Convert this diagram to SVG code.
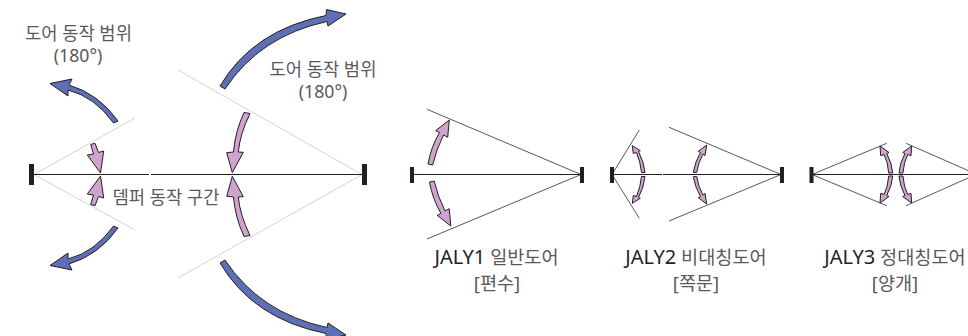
<svg xmlns="http://www.w3.org/2000/svg" width="968" height="336" viewBox="0 0 968 336">
<style>
text{font-family:"Noto Sans","Noto Sans CJK KR",sans-serif;font-size:18.6px;fill:#58595b;text-anchor:middle;font-weight:400}
.r{font-size:17.7px}
.b{fill:#231f20}
.c{stroke:#231f20;stroke-width:1.1;fill:none}
.g{stroke:#d4d4d4;stroke-width:1;fill:none}
.t{stroke:#58595b;stroke-width:1;fill:none}
.blue{fill:#5f6fb5;stroke:#231f20;stroke-width:1;stroke-linejoin:miter}
.pink{fill:#cfa3cd;stroke:#231f20;stroke-width:1;stroke-linejoin:miter}
.k{fill:#231f20;font-size:20px}
</style>
<defs>
<path id="a1" d="M118,121Q99,94 69,85L72,79L50,83.5L68,96L68,90Q95,97 113.5,123Z"/>
<path id="a2" d="M220,86Q253,30 326,15.5L326.5,9.5L346,14L328,26L327,21.5Q260,36 225,89Z"/>
<path id="a3" d="M90.7,144.5L95,143.3L98.5,152.5L103.7,151L100.5,173L87.3,155L93.5,154Z"/>
<path id="a4" d="M244,112.5Q235,132 233.5,152L226.7,152.7L232.3,172.7L243.3,152.3L238.3,152Q240,134 250,113.5Z"/>
<path id="a5" d="M428,164Q431,147 439.5,132.5L435.7,130.7L449.3,120L447.7,137.3L443.5,135Q436,150 432.7,165Z"/>
<path id="a6" d="M641.5,172.5Q640.5,162 636.5,152.5L633.3,153.5L632.3,145.7L640.3,150.7L638.5,151.5Q644,162 645,172.5Z"/>
<path id="a7" d="M693.3,172.3Q695,162 700.5,152.5L698.3,151.3L706.7,145L705,155.5L703,154Q698,163 696.7,172.5Z"/>
<path id="a8" d="M888.7,173Q888,162 884,154.5L880.7,155.7L880,146L889,152.5L886.7,153.5Q892,163 892.7,173Z"/>
</defs>
<g id="connectors">
<path class="g" d="M135,118L34,174.5L135,230M178,70L362,174.5L178,278"/>
<path class="c" d="M34,174.5H149M151,174.5H362"/>
<path class="t" d="M427,109.3L581,174.5L427,239M639.3,130L612,174.5L639.3,218.3M669,127.3L781,174.5L669,221M886.7,143.3L812,174.5L886.7,205.7M906,143.3L968,170.5M906,205.7L968,178"/>
<path class="c" d="M414,174.5H580M614,174.5H662M663,174.5H780M813,174.5H968"/>
<use href="#a1" class="blue"/><use href="#a1" class="blue" transform="matrix(1 0 0 -1 0 349)"/>
<use href="#a2" class="blue"/><use href="#a2" class="blue" transform="matrix(1 0 0 -1 0 349)"/>
<use href="#a3" class="pink"/><use href="#a3" class="pink" transform="matrix(1 0 0 -1 0 349)"/>
<use href="#a4" class="pink"/><use href="#a4" class="pink" transform="matrix(1 0 0 -1 0 349)"/>
<use href="#a5" class="pink"/><use href="#a5" class="pink" transform="matrix(1 0 0 -1 1.5 346)"/>
<use href="#a6" class="pink"/><use href="#a6" class="pink" transform="matrix(1 0 0 -1 0 349)"/>
<use href="#a7" class="pink"/><use href="#a7" class="pink" transform="matrix(1 0 0 -1 0 349)"/>
<use href="#a8" class="pink"/><use href="#a8" class="pink" transform="matrix(1 0 0 -1 0 349)"/>
<use href="#a8" class="pink" transform="matrix(-1 0 0 1 1791.7 0)"/><use href="#a8" class="pink" transform="matrix(-1 0 0 -1 1791.7 349)"/>
</g>
<g id="bars">
<rect class="b" x="29" y="164" width="5" height="21"/>
<rect class="b" x="362" y="164" width="5" height="21"/>
<rect class="b" x="410" y="167" width="4" height="16"/>
<rect class="b" x="580" y="167" width="4" height="16"/>
<rect class="b" x="610" y="167" width="4" height="16"/>
<rect class="b" x="780" y="167" width="4" height="16"/>
<rect class="b" x="809.5" y="167" width="4" height="16"/>
</g>
<g id="label-range-left"><text class="r" x="78.5" y="40">도어 동작 범위</text><text class="r" x="78" y="62">(180°)</text></g>
<g id="label-range-right"><text class="r" x="323" y="76">도어 동작 범위</text><text class="r" x="323" y="98">(180°)</text></g>
<g id="label-damper"><text class="r" x="166" y="204">뎀퍼 동작 구간</text></g>
<g id="node-jaly1"><text x="496.5" y="264"><tspan class="k">JALY1</tspan> 일반도어</text><text x="497" y="290">[편수]</text></g>
<g id="node-jaly2"><text x="696" y="264"><tspan class="k">JALY2</tspan> 비대칭도어</text><text x="696" y="290">[쪽문]</text></g>
<g id="node-jaly3"><text x="895" y="264"><tspan class="k">JALY3</tspan> 정대칭도어</text><text x="895" y="290">[양개]</text></g>
</svg>
